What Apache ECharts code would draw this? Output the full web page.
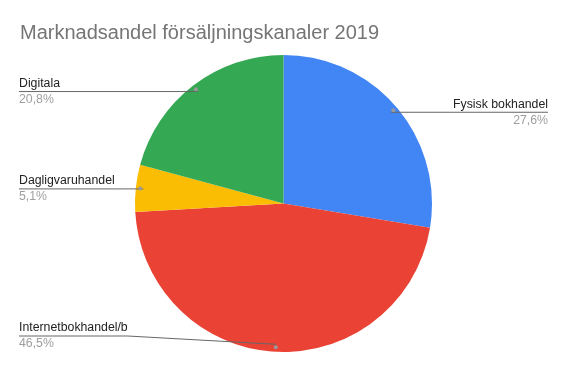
<!DOCTYPE html>
<html><head><meta charset="utf-8">
<script src="https://cdn.jsdelivr.net/npm/echarts@6/dist/echarts.min.js"></script>
<style>html,body{margin:0;padding:0;background:#fff}#c{width:567px;height:371px}</style>
</head><body><div id="c"></div>
<script>
const categories = ['Fysisk bokhandel', 'Internetbokhandel/b', 'Dagligvaruhandel', 'Digitala'];
const values = [27.6, 46.5, 5.1, 20.8];
const colors = ['#4285F4', '#EA4335', '#FBBC04', '#34A853'];
const titleText = 'Marknadsandel försäljningskanaler 2019';

const CX = 283.5, CY = 203.5, R = 148.5, DOT_R = 141;
const FONT = '"Liberation Sans", Arial, sans-serif';
const fmt = v => v.toFixed(1).replace('.', ',') + '%';
const total = values.reduce((a, b) => a + b, 0);
function midAngle(i) { let c = 0; for (let k = 0; k < i; k++) c += values[k]; return (c + values[i] / 2) / total * 2 * Math.PI; }
const baseData = () => categories.map((n, i) => ({ name: n, value: values[i] }));

const chart = echarts.init(document.getElementById('c'), null, { renderer: 'canvas' });
chart.setOption({
  animation: false,
  title: { text: titleText, left: 15, top: 18, textStyle: { fontFamily: FONT, fontSize: 20, fontWeight: 'normal', color: '#757575' } },
  series: [{
    type: 'pie', center: [CX, CY], radius: R, startAngle: 90, clockwise: true,
    silent: true, emphasis: { disabled: true }, z: 2,
    itemStyle: { borderWidth: 0 },
    data: categories.map((n, i) => ({ name: n, value: values[i], itemStyle: { color: colors[i] } })),
    label: { show: false }, labelLine: { show: false }
  }, {
    type: 'pie', center: [CX, CY], radius: R, startAngle: 90, clockwise: true,
    silent: true, emphasis: { disabled: true }, z: 5,
    itemStyle: { color: 'rgba(0,0,0,0)', borderWidth: 0 },
    data: baseData(),
    label: {
      show: true, position: 'outside', overflow: 'none',
      formatter: p => '{n|' + p.name + '}\n{p|' + fmt(p.value) + '}',
      rich: {
        n: { fontFamily: FONT, fontSize: 12.3, color: '#222222', lineHeight: 16 },
        p: { fontFamily: FONT, fontSize: 12.3, color: '#9e9e9e', lineHeight: 16 }
      }
    },
    labelLine: { show: true, lineStyle: { color: '#666666', width: 1 } },
    labelLayout: function (params) {
      const a = midAngle(params.dataIndex);
      const dx = CX + DOT_R * Math.sin(a), dy = CY - DOT_R * Math.cos(a);
      const left = Math.sin(a) < 0;
      const y = Math.min(dy, 336);
      const w = params.labelRect.width;
      const x = left ? 19 : 548;
      const near = left ? x + w : x - w;
      return { x: x, y: y, align: left ? 'left' : 'right', verticalAlign: 'middle', labelLinePoints: [[dx, dy], [near, y], [x, y]] };
    }
  }, {
    type: 'pie', center: [CX, CY], radius: [DOT_R - 5, DOT_R + 5], startAngle: 90, clockwise: true,
    silent: true, emphasis: { disabled: true }, z: 6,
    itemStyle: { color: 'rgba(0,0,0,0)', borderWidth: 0 },
    data: baseData(),
    label: { show: true, position: 'inside', formatter: '{d| }', rich: { d: { width: 4, height: 4, borderRadius: 2, backgroundColor: '#999999', fontSize: 1, lineHeight: 4 } } },
    labelLine: { show: false }
  }]
});
</script>
</body></html>
